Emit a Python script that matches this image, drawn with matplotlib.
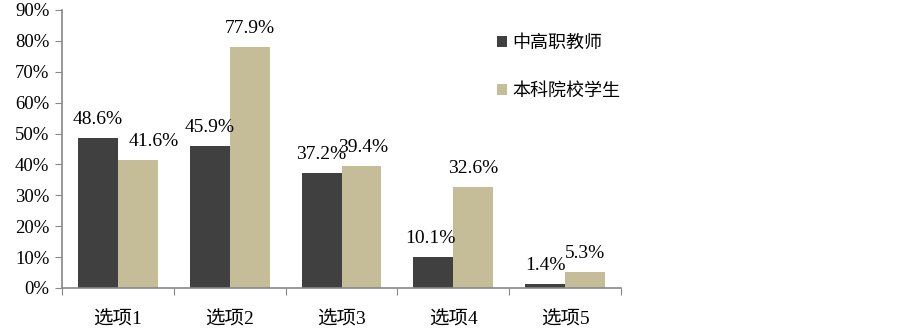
import matplotlib
matplotlib.use("Agg")
import matplotlib.pyplot as plt
import numpy as np
from matplotlib.ticker import FuncFormatter, MultipleLocator

plt.rcParams['font.family'] = ['Liberation Serif', 'Noto Sans CJK SC', 'DejaVu Sans']

categories = ["选项1", "选项2", "选项3", "选项4", "选项5"]
series_names = ["中高职教师", "本科院校学生"]
teachers = [48.6, 45.9, 37.2, 10.1, 1.4]
students = [41.6, 77.9, 39.4, 32.6, 5.3]
colors = ["#404040", "#C4BD97"]

fig = plt.figure(figsize=(9.03, 3.33), dpi=100)
ax = fig.add_axes([62/903, 45/333, (621-62)/903, (288-10)/333])

x = np.arange(len(categories))
w = 0.357
ax.bar(x - w/2, teachers, w, color=colors[0], label=series_names[0])
ax.bar(x + w/2, students, w, color=colors[1], label=series_names[1])

fs_val = 14
t_dx = [0, 0, 0, -2, 0]
s_dx = [11.5, 0, 1.5, 0, 0]
for i, v in enumerate(teachers):
    ax.annotate(f"{v:.1f}%", (x[i] - w/2, v), xytext=(t_dx[i], 10), textcoords="offset points",
                ha="center", va="baseline", fontsize=fs_val)
for i, v in enumerate(students):
    ax.annotate(f"{v:.1f}%", (x[i] + w/2, v), xytext=(s_dx[i], 10), textcoords="offset points",
                ha="center", va="baseline", fontsize=fs_val)

ax.set_xlim(-0.5, len(categories) - 0.5)
ax.set_ylim(0, 90)
ax.yaxis.set_major_locator(MultipleLocator(10))
ax.yaxis.set_major_formatter(FuncFormatter(lambda v, p: f"{v:.0f}%"))
ax.set_xticks(np.arange(len(categories) + 1) - 0.5)
ax.set_xticklabels([])
ax.set_xticks(x, minor=True)
ax.set_xticklabels(categories, minor=True, fontsize=14)
ax.tick_params(axis='x', which='minor', length=0, pad=17)
ax.tick_params(axis='x', which='major', length=5, direction='out', color='#888888')
ax.tick_params(axis='y', length=5, direction='out', color='#888888', labelsize=13.5, pad=4)

for s in ['top', 'right']:
    ax.spines[s].set_visible(False)
for s in ['left', 'bottom']:
    ax.spines[s].set_color('#888888')
    ax.spines[s].set_linewidth(1.2)

ax.legend(loc='upper left', bbox_to_anchor=(497/903, 1 - 35/333), bbox_transform=fig.transFigure,
          frameon=False, fontsize=13, handlelength=0.55, handleheight=0.55,
          handletextpad=0.3, labelspacing=1.7, borderpad=0, borderaxespad=0)

fig.savefig("out.png", dpi=100)
